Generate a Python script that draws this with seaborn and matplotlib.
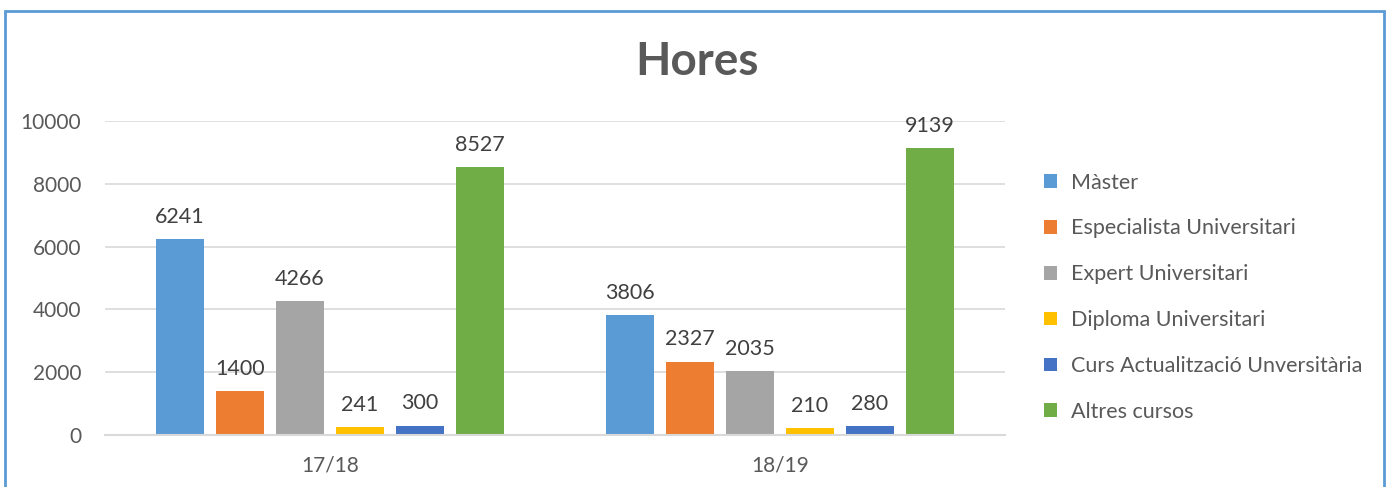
import matplotlib
matplotlib.use("Agg")
import matplotlib.pyplot as plt
import seaborn as sns
import pandas as pd
from matplotlib.patches import Rectangle

years = ["17/18", "18/19"]
series = ["Màster", "Especialista Universitari", "Expert Universitari",
          "Diploma Universitari", "Curs Actualització Unversitària", "Altres cursos"]
values_1718 = [6241, 1400, 4266, 241, 300, 8527]
values_1819 = [3806, 2327, 2035, 210, 280, 9139]
colors = ["#5B9BD5", "#ED7D31", "#A5A5A5", "#FFC000", "#4472C4", "#70AD47"]
yticks = [0, 2000, 4000, 6000, 8000, 10000]

rows = []
for s, a, b in zip(series, values_1718, values_1819):
    rows.append({"year": years[0], "serie": s, "value": a})
    rows.append({"year": years[1], "serie": s, "value": b})
df = pd.DataFrame(rows)

sns.set_theme(style="white")
plt.rcParams['font.family'] = ['Lato', 'DejaVu Sans']

W, H = 1391, 487
fig = plt.figure(figsize=(W / 100, H / 100), dpi=100)
ax = fig.add_axes([105 / W, 1 - 435 / H, 900 / W, (435 - 121) / H])

sns.barplot(data=df, x="year", y="value", hue="serie", order=years,
            hue_order=series, palette=colors, width=0.8, gap=0.2,
            saturation=1, edgecolor="none", ax=ax, legend=True)

text_col = "#595959"
for c in ax.containers:
    ax.bar_label(c, fmt="%d", padding=9, fontsize=15.5, color="#404040")

ax.set_ylim(0, 10000)
ax.set_xlim(-0.5, 1.5)
ax.set_yticks(yticks)
ax.set_yticklabels([str(t) for t in yticks])
ax.yaxis.grid(True, color="#D9D9D9", linewidth=1.2)
ax.set_axisbelow(True)
for sp in ["top", "right", "left"]:
    ax.spines[sp].set_visible(False)
ax.spines["bottom"].set_color("#D9D9D9")
ax.spines["bottom"].set_linewidth(1.5)
ax.tick_params(axis="both", length=0, labelsize=15, labelcolor=text_col)
ax.tick_params(axis="y", pad=17)
ax.tick_params(axis="x", pad=15)
ax.set_xlabel("")
ax.set_ylabel("")

handles, labels = ax.get_legend_handles_labels()
ax.get_legend().remove()
fig.legend(handles, labels, loc="upper left",
           bbox_to_anchor=(1035 / W, 1 - 164 / H), frameon=False,
           fontsize=15.5, labelcolor=text_col, handlelength=0.6,
           handleheight=0.6, handletextpad=0.65, labelspacing=1.2,
           borderaxespad=0)

fig.text(0.501, 1 - 62 / H, "Hores", ha="center", va="center",
         fontsize=33, fontweight="bold", color=text_col)

fig.add_artist(Rectangle((5 / W, -0.1), 1379 / W, 1.1 - 11 / H,
                         transform=fig.transFigure, fill=False,
                         edgecolor="#5B9BD5", linewidth=2))

fig.savefig("out.png", dpi=100)
